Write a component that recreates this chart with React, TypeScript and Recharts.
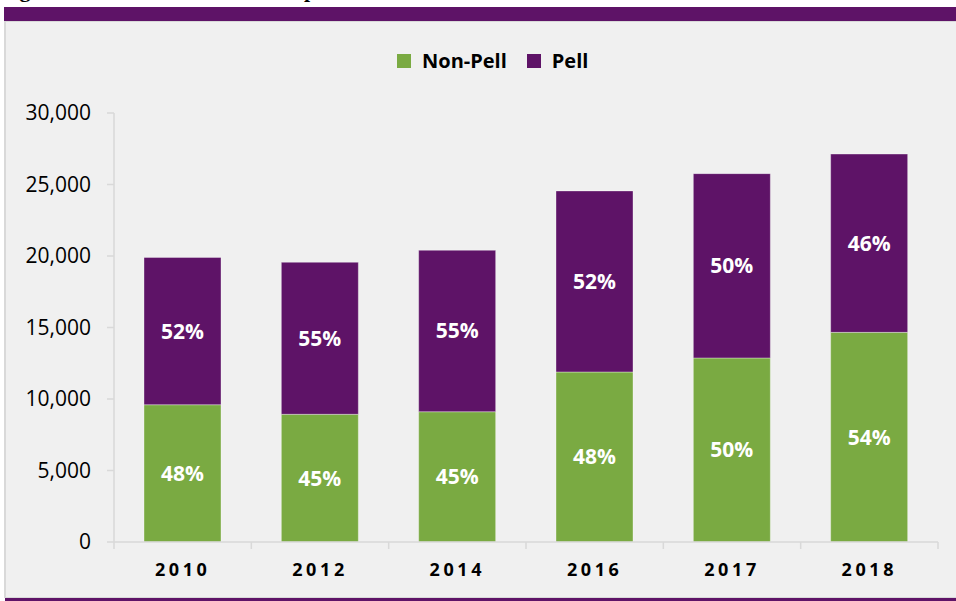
import React from 'react';
import { BarChart, Bar, XAxis, YAxis, Legend, LabelList } from 'recharts';

const years = ['2010', '2012', '2014', '2016', '2017', '2018'];
const nonPell = [9600, 8930, 9110, 11890, 12870, 14660];
const pell = [10300, 10630, 11290, 12660, 12890, 12470];
const nonPellPct = ['48%', '45%', '45%', '48%', '50%', '54%'];
const pellPct = ['52%', '55%', '55%', '52%', '50%', '46%'];
const yTicks = [0, 5000, 10000, 15000, 20000, 25000, 30000];
const seriesNames = ['Non-Pell', 'Pell'];
const titleText = 'Figure 1. Pell and Non-Pell Completers';

const GREEN = '#7AAA42';
const PURPLE = '#5E1367';
const AXIS = '#D9D9D9';
const FONT = '"Open Sans", sans-serif';

const data = years.map((year, i) => ({
  year,
  nonPell: nonPell[i],
  pell: pell[i],
  nonPellPct: nonPellPct[i],
  pellPct: pellPct[i],
}));

const XTick = (props: any) => {
  const { x, y, payload, index, visibleTicksCount, width } = props;
  const half = (payload && payload.offset) || width / visibleTicksCount / 2;
  const last = index === visibleTicksCount - 1;
  return (
    <g>
      <line x1={x - half} x2={x - half} y1={y} y2={y + 7} stroke={AXIS} strokeWidth={1.5} />
      {last && <line x1={x + half} x2={x + half} y1={y} y2={y + 7} stroke={AXIS} strokeWidth={1.5} />}
      <text
        x={x}
        y={y + 34}
        textAnchor="middle"
        fill="#000"
        fontFamily={FONT}
        fontWeight={700}
        fontSize={18}
        letterSpacing={3.6}
      >
        {payload.value}
      </text>
    </g>
  );
};

const LegendContent = (props: any) => {
  const { payload } = props;
  return (
    <div style={{ display: 'flex', alignItems: 'center', fontFamily: FONT, fontWeight: 700, fontSize: 20, color: '#000' }}>
      {(payload || []).map((e: any, i: number) => (
        <div key={i} style={{ display: 'flex', alignItems: 'center', marginRight: 20 }}>
          <span style={{ display: 'inline-block', width: 14, height: 14, background: e.color, marginRight: 11 }} />
          <span>{e.value}</span>
        </div>
      ))}
    </div>
  );
};

export default function App() {
  return (
    <div style={{ position: 'absolute', left: 0, top: 0, width: 956, height: 601, background: '#fff', overflow: 'hidden' }}>
      <div
        style={{
          position: 'absolute',
          left: 0,
          top: -21,
          fontFamily: '"Liberation Serif", "Times New Roman", serif',
          fontWeight: 700,
          fontSize: 22,
          lineHeight: '22px',
          whiteSpace: 'nowrap',
          color: '#000',
        }}
      >
        {titleText}
      </div>
      <div style={{ position: 'absolute', left: 4, top: 7, width: 952, height: 14, background: PURPLE }} />
      <div
        style={{
          position: 'absolute',
          left: 4,
          top: 21,
          width: 952,
          height: 577,
          background: '#F0F0F0',
          borderTop: `1px solid ${AXIS}`,
          borderLeft: `2px solid ${AXIS}`,
          borderBottom: `1px solid ${AXIS}`,
          boxSizing: 'border-box',
        }}
      />
      <div style={{ position: 'absolute', left: 5, top: 598, width: 951, height: 3, background: PURPLE }} />
      <div style={{ position: 'absolute', left: 0, top: 0 }}>
        <BarChart width={956} height={601} data={data} margin={{ top: 113, right: 18, bottom: 19, left: 0 }}>
          <XAxis
            dataKey="year"
            tick={<XTick />}
            tickLine={false}
            tickSize={0}
            tickMargin={0}
            height={40}
            axisLine={{ stroke: AXIS, strokeWidth: 1.5 }}
            interval={0}
          />
          <YAxis
            width={114}
            domain={[0, 30000]}
            ticks={yTicks}
            interval={0}
            tickFormatter={(v: number) => v.toLocaleString('en-US')}
            tick={{ fill: '#000', fontFamily: FONT, fontSize: 21 }}
            tickSize={7}
            tickMargin={16}
            tickLine={{ stroke: AXIS, strokeWidth: 1.5 }}
            axisLine={{ stroke: AXIS, strokeWidth: 1.5 }}
          />
          <Legend
            layout="horizontal"
            verticalAlign="middle"
            align="center"
            content={<LegendContent />}
            wrapperStyle={{ position: 'absolute', left: 397, top: 47, width: 'auto' }}
          />
          <Bar
            dataKey="nonPell"
            name={seriesNames[0]}
            stackId="a"
            fill={GREEN}
            stroke="rgba(255,255,255,0.35)"
            strokeWidth={1}
            barSize={77}
            isAnimationActive={false}
          >
            <LabelList dataKey="nonPellPct" position="center" fill="#fff" fontFamily={FONT} fontWeight={700} fontSize={21} />
          </Bar>
          <Bar
            dataKey="pell"
            name={seriesNames[1]}
            stackId="a"
            fill={PURPLE}
            stroke="rgba(255,255,255,0.35)"
            strokeWidth={1}
            barSize={77}
            isAnimationActive={false}
          >
            <LabelList dataKey="pellPct" position="center" fill="#fff" fontFamily={FONT} fontWeight={700} fontSize={21} />
          </Bar>
        </BarChart>
      </div>
    </div>
  );
}
